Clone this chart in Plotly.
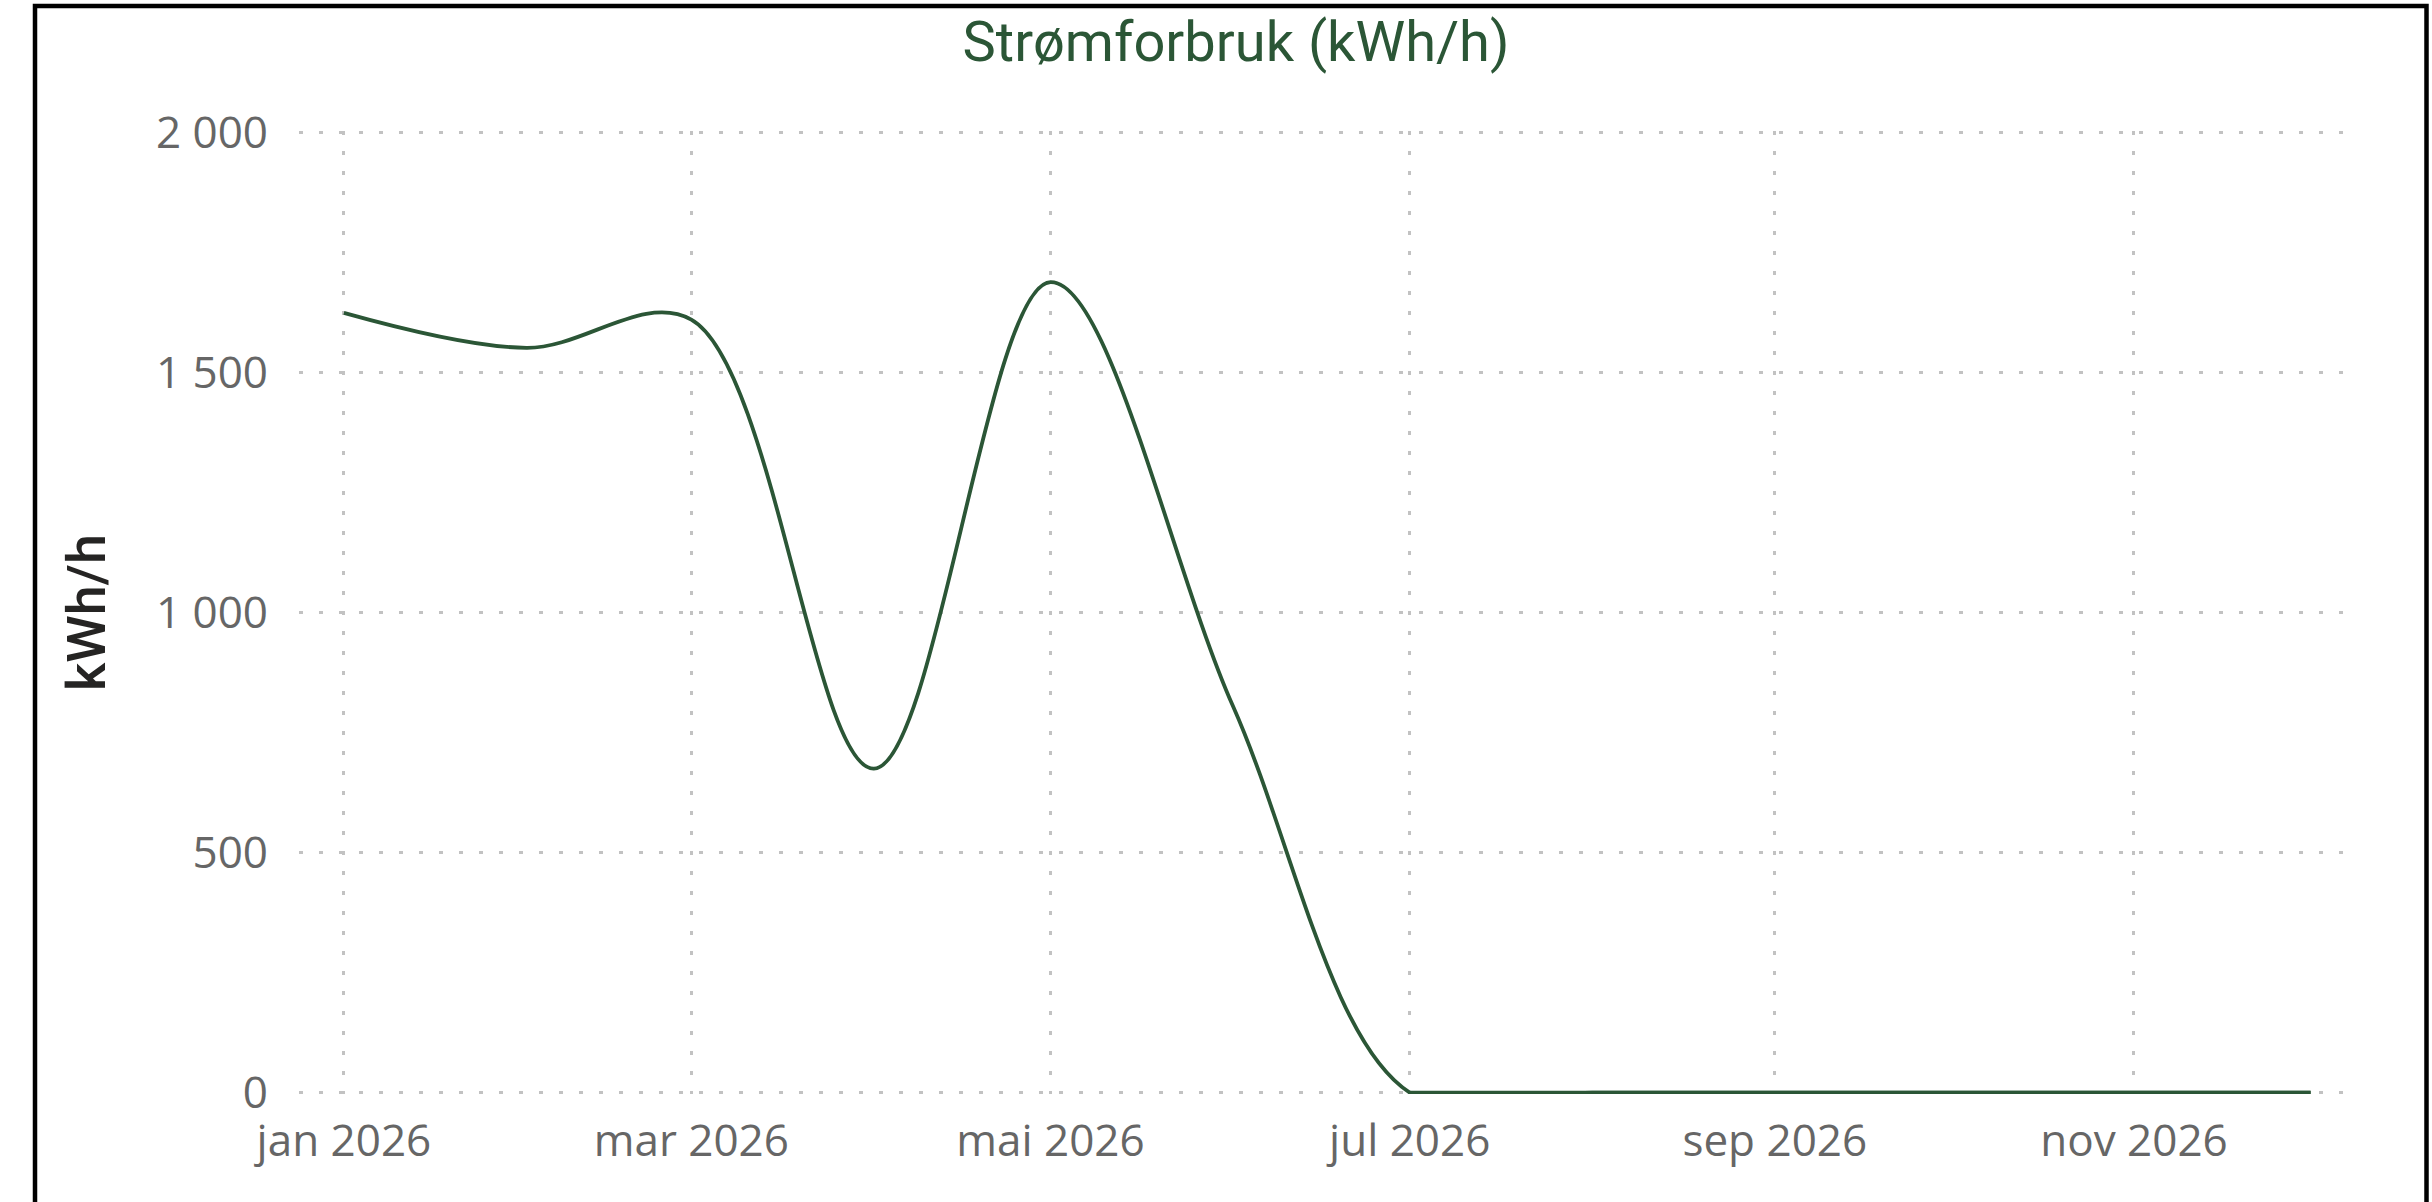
import plotly.graph_objects as go

# ---- data ----
months = ["2026-01-01", "2026-02-01", "2026-03-01", "2026-04-01", "2026-05-01", "2026-06-01",
          "2026-07-01", "2026-08-01", "2026-09-01", "2026-10-01", "2026-11-01", "2026-12-01"]
consumption = [1625, 1552, 1611, 675, 1689, 805, 0, 0, 0, 0, 0, 0]

x_tick_vals = ["2026-01-01", "2026-03-01", "2026-05-01", "2026-07-01", "2026-09-01", "2026-11-01"]
x_tick_text = ["jan 2026", "mar 2026", "mai 2026", "jul 2026", "sep 2026", "nov 2026"]
y_tick_vals = [0, 500, 1000, 1500, 2000]
y_tick_text = ["0", "500", "1 000", "1 500", "2 000"]

title_text = "Strømforbruk (kWh/h)"
y_title = "kWh/h"

# ---- layout constants ----
W, H = 2432, 1202
ML, MR, MT, MB = 299, 89, 131, 108
GREEN = "#2b5636"
GRID = "#c2c2c2"
TICK = "#666666"

fig = go.Figure()
fig.add_trace(go.Scatter(
    x=months, y=consumption, mode="lines",
    line=dict(color=GREEN, width=3.8, shape="spline", smoothing=1),
    hoverinfo="x+y", showlegend=False,
))
# the flat zero stretch of the same series, drawn straight so the spline's
# dip below the axis (clipped) leaves no gap
zero_start = next(i for i, v in enumerate(consumption) if v == 0)
fig.add_trace(go.Scatter(
    x=months[zero_start:], y=consumption[zero_start:], mode="lines",
    line=dict(color=GREEN, width=3.8), hoverinfo="skip", showlegend=False,
))

# frame border (pixel -> paper conversion)
pw, ph = W - ML - MR, H - MT - MB
def px_to_paper_x(px):
    return (px - ML) / pw
def px_to_paper_y(py):
    return (H - MB - py) / ph

fig.add_shape(type="rect", xref="paper", yref="paper",
              x0=px_to_paper_x(35), x1=px_to_paper_x(2426.5),
              y0=px_to_paper_y(1260), y1=px_to_paper_y(6),
              line=dict(color="black", width=4.5), fillcolor="rgba(0,0,0,0)", layer="above")

fig.update_layout(
    width=W, height=H,
    margin=dict(l=ML, r=MR, t=MT, b=MB, pad=0),
    paper_bgcolor="white", plot_bgcolor="white",
    title=dict(text=title_text, x=1236 / W, xref="container", xanchor="center",
               y=1 - 41 / H, yref="container", yanchor="middle",
               font=dict(family="Roboto, Noto Sans, sans-serif", size=56, color=GREEN)),
    font=dict(family="Open Sans, Noto Sans, sans-serif", size=44, color=TICK),
)

fig.update_xaxes(
    type="date", range=["2025-12-24 09:00", "2026-12-06 12:00"],
    tickvals=x_tick_vals, ticktext=x_tick_text,
    showgrid=True, gridcolor=GRID, gridwidth=3, griddash="4px,16px",
    zeroline=False, showline=False, ticks="",
    ticklabelstandoff=17,
    tickfont=dict(family="Open Sans, Noto Sans, sans-serif", size=44, color=TICK),
)
fig.update_yaxes(
    range=[-3, 2004],
    tickvals=y_tick_vals, ticktext=y_tick_text,
    showgrid=True, gridcolor=GRID, gridwidth=3, griddash="4px,16px",
    zeroline=False, showline=False, ticks="",
    ticklabelstandoff=30,
    tickfont=dict(family="Open Sans, Noto Sans, sans-serif", size=44, color=TICK),
    title=dict(text=y_title, standoff=33,
               font=dict(family="Roboto, Noto Sans, sans-serif", size=54, color="#252423", weight=500)),
)

fig.write_html("out.html", config={"displayModeBar": False},
               post_script="document.body.style.margin='0px';")
